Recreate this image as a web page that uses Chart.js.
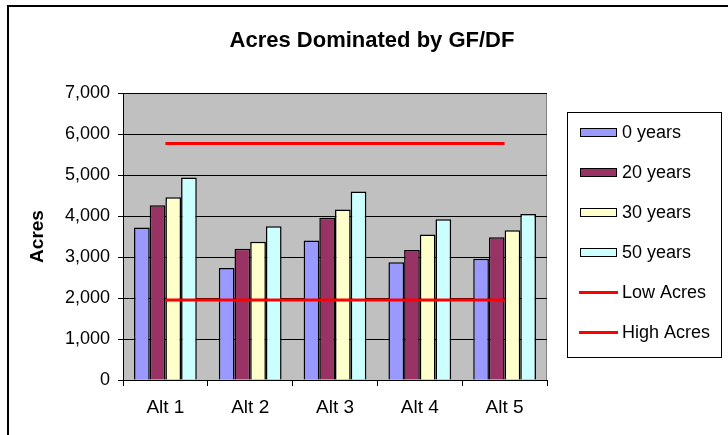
<!DOCTYPE html>
<html>
<head>
<meta charset="utf-8">
<script src="https://cdn.jsdelivr.net/npm/chart.js@4.4.1/dist/chart.umd.min.js"></script>
<style>
  html, body { margin: 0; padding: 0; background: #fff; }
  #wrap { width: 728px; height: 435px; position: relative; }
</style>
</head>
<body>
<div id="wrap"><canvas id="myChart" width="728" height="435"></canvas></div>
<script>
// values
const categories = ['Alt 1', 'Alt 2', 'Alt 3', 'Alt 4', 'Alt 5'];
const years0  = [3720, 2730, 3400, 2870, 2960];
const years20 = [4260, 3200, 3960, 3170, 3480];
const years30 = [4460, 3370, 4160, 3550, 3650];
const years50 = [4940, 3750, 4600, 3920, 4050];
const lowAcres  = [1950, 1950, 1950, 1950, 1950];
const highAcres = [5770, 5770, 5770, 5770, 5770];
const yTicks = [0, 1000, 2000, 3000, 4000, 5000, 6000, 7000];

const FONT = "'Liberation Sans', Arial, sans-serif";

function barSet(label, data, color) {
    return {
        type: 'bar',
        label: label,
        data: data,
        backgroundColor: color,
        borderColor: '#000',
        borderWidth: 1.5,
        order: 1
    };
}

function lineSet(label, data) {
    return {
        type: 'line',
        label: label,
        data: data,
        borderColor: '#ff0000',
        backgroundColor: '#ff0000',
        borderWidth: 3,
        pointRadius: 0,
        fill: false,
        order: 0
    };
}

// gray plot area + page frame
const plotBg = {
    id: 'plotBg',
    beforeDraw(chart) {
        const {ctx, chartArea: a} = chart;
        ctx.save();
        ctx.fillStyle = '#000';
        ctx.fillRect(7, 5, 2, 430);
        ctx.fillRect(7, 5, 721, 2);
        ctx.fillStyle = '#c0c0c0';
        ctx.fillRect(a.left, a.top, a.right - a.left, a.bottom - a.top);
        ctx.strokeStyle = '#808080';
        ctx.lineWidth = 1;
        ctx.strokeRect(a.left + 0.5, a.top + 0.5, a.right - a.left - 1, a.bottom - a.top);
        ctx.restore();
    }
};

// title and boxed legend, Excel style
const titleLegend = {
    id: 'titleLegend',
    afterDraw(chart) {
        const ctx = chart.ctx;
        ctx.save();
        ctx.fillStyle = '#000';
        ctx.font = 'bold 22px ' + FONT;
        ctx.textAlign = 'center';
        ctx.textBaseline = 'middle';
        ctx.fillText('Acres Dominated by GF/DF', 372, 41);

        ctx.strokeStyle = '#000';
        ctx.lineWidth = 1;
        ctx.strokeRect(567.5, 112.5, 154, 245);

        ctx.font = '18px ' + FONT;
        ctx.textAlign = 'left';
        chart.data.datasets.forEach((ds, i) => {
            const y = 132 + i * 40;
            if (ds.type === 'bar') {
                ctx.fillStyle = ds.backgroundColor;
                ctx.fillRect(580, y - 4, 37, 9);
                ctx.strokeRect(580.5, y - 3.5, 36, 8);
            } else {
                ctx.fillStyle = ds.borderColor;
                ctx.fillRect(579, y - 1, 39, 3);
            }
            ctx.fillStyle = '#000';
            ctx.fillText(ds.label, 622, y + 1);
        });
        ctx.restore();
    }
};

new Chart(document.getElementById('myChart'), {
    data: {
        labels: categories,
        datasets: [
            barSet('0 years', years0, '#9999ff'),
            barSet('20 years', years20, '#993366'),
            barSet('30 years', years30, '#ffffcc'),
            barSet('50 years', years50, '#ccffff'),
            lineSet('Low Acres', lowAcres),
            lineSet('High Acres', highAcres)
        ]
    },
    options: {
        responsive: false,
        animation: false,
        layout: { padding: { top: 93, right: 181, left: 0, bottom: 0 } },
        datasets: { bar: { categoryPercentage: 0.74, barPercentage: 1.0 } },
        plugins: {
            legend: { display: false },
            title: { display: false },
            tooltip: { enabled: false }
        },
        scales: {
            x: {
                offset: true,
                grid: { offset: true, drawOnChartArea: false, drawTicks: true, tickLength: 6, color: '#000' },
                border: { color: '#000', width: 1 },
                ticks: { color: '#000', padding: 10, font: { family: FONT, size: 19 } },
                afterFit(s) { s.height = 55; }
            },
            y: {
                min: 0,
                max: 7000,
                afterBuildTicks(s) { s.ticks = yTicks.map(v => ({ value: v })); },
                grid: { color: '#000', lineWidth: 1, tickLength: 5 },
                border: { color: '#000', width: 1 },
                ticks: {
                    color: '#000',
                    padding: 8,
                    font: { family: FONT, size: 18 },
                    callback: v => v.toLocaleString('en-US')
                },
                title: {
                    display: true,
                    text: 'Acres',
                    color: '#000',
                    padding: { top: 26, bottom: 0 },
                    font: { family: FONT, size: 19, weight: 'bold' }
                },
                afterFit(s) { s.width = 123; }
            }
        }
    },
    plugins: [plotBg, titleLegend]
});
</script>
</body>
</html>
